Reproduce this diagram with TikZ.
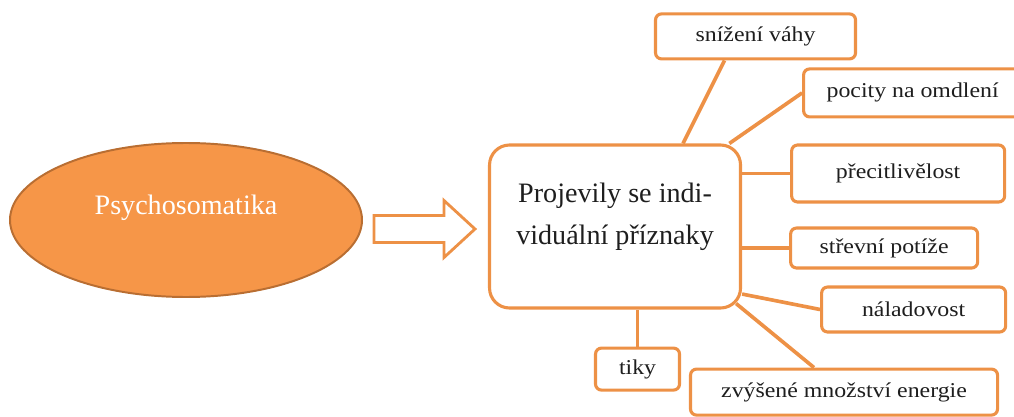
\documentclass[tikz,border=0pt]{standalone}
\usepackage{fontspec}
\setmainfont{Liberation Serif}
\newfontfamily\widefont[FakeStretch=1.13]{Liberation Serif}
\usetikzlibrary{shapes,positioning,calc}
\definecolor{boxorange}{RGB}{237,145,70}
\definecolor{psyfill}{RGB}{246,150,72}
\definecolor{psyedge}{RGB}{185,110,50}
\definecolor{inktext}{RGB}{30,30,30}

\begin{document}
\begin{tikzpicture}[
    source/.style={ellipse, draw=psyedge, line width=1.4pt, fill=psyfill, minimum width=8.8cm, minimum height=3.85cm, text=white, font=\fontsize{20}{24}\selectfont, text height=10pt, text depth=17.2pt},
    core/.style={rectangle, rounded corners=0.5cm, draw=boxorange, line width=2.2pt, fill=white, minimum width=6.275cm, minimum height=4.075cm, align=center, text=inktext, font=\fontsize{20}{30}\selectfont, text height=34pt, text depth=7.7pt},
    symptom/.style={rectangle, rounded corners=0.15cm, draw=boxorange, line width=2.2pt, fill=white, align=center, text=inktext, font=\widefont\fontsize{15}{18}\selectfont},
    link/.style={boxorange, line width=2.6pt},
    blockarrow/.style={draw=boxorange, line width=2pt, fill=white, line join=miter}
]
\useasboundingbox (0,0) rectangle (25.35,-10.425);

\node[source] (psy) at (4.65,-5.5) {Psychosomatika};
\node[core, right=3.125cm of psy, yshift=-0.1625cm] (proj) {Projevily se indi-\\viduální příznaky};

\node[symptom, minimum width=5cm, minimum height=1.125cm, above=2.075cm of proj, xshift=3.5125cm] (weight) {snížení váhy};
\node[symptom, minimum width=5.45cm, minimum height=1.2cm, above right=0.625cm and 1.5cm of proj.north east] (faint) {pocity na omdlení};
\node[symptom, minimum width=5.325cm, minimum height=1.425cm, right=1.2cm of proj, yshift=1.325cm] (sensitive) {přecitlivělost};
\node[symptom, minimum width=4.675cm, minimum height=1cm, right=1.175cm of proj, yshift=-0.5375cm] (bowel) {střevní potíže};
\node[symptom, minimum width=4.6cm, minimum height=1.125cm, right=1.95cm of proj, yshift=-2.075cm] (mood) {náladovost};
\node[symptom, minimum width=7.675cm, minimum height=1.15cm, below=1.45cm of proj, xshift=5.725cm] (energy) {zvýšené množství energie};
\node[symptom, minimum width=2.1cm, minimum height=1.05cm, below=0.925cm of proj, xshift=0.5625cm] (tics) {tiky};

% block arrow
\draw[blockarrow] ($(proj.west)+(-0.325,-0.0625)$) -- ++(-0.775,0.7125) -- ++(0,-0.375) -- ++(-1.75,0) -- ++(0,-0.675) -- ++(1.75,0) -- ++(0,-0.375) -- cycle;

\draw[link] ($(weight.south)+(-0.775,0)$) -- ($(proj.north)+(1.7,0)$);
\draw[link] (proj.36) -- (faint.west);
\draw[link] (proj.east |- sensitive.west) -- (sensitive.west);
\draw[link] (proj.east |- bowel.west) -- (bowel.west);
\draw[link] (proj.-28) -- (mood.west);
\draw[link] ($(proj.south east)+(-0.15,0.15)$) -- ($(energy.north west)+(3.125,0)$);
\draw[link] (tics.north) -- (tics.north |- proj.south);

\end{tikzpicture}
\end{document}
